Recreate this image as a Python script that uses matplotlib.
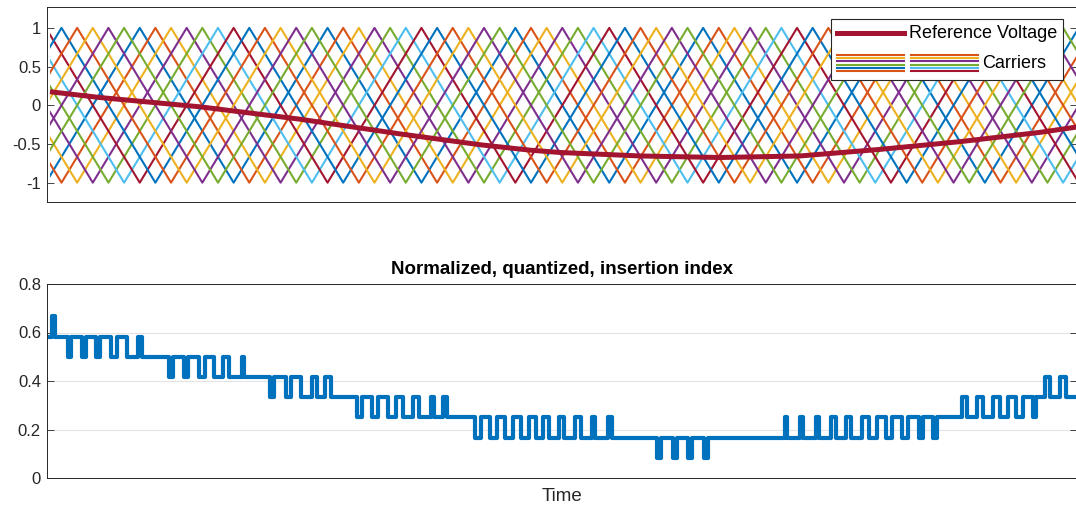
import numpy as np
import matplotlib.pyplot as plt
from matplotlib.patches import Rectangle
from matplotlib.lines import Line2D

plt.rcParams['font.family'] = ['Liberation Sans', 'DejaVu Sans']
plt.rcParams['axes.unicode_minus'] = False

# MATLAB default colour order
matlab_colors = ['#0072BD', '#D95319', '#EDB120', '#7E2F8E', '#77AC30', '#4DBEEE', '#A2142F']
ref_color = '#A2142F'
idx_color = '#0072BD'
ink = '#262626'

# 12 phase shifted triangular carriers (time in arbitrary units)
carrier_period = 187.8
carrier_first_peak = [89.75, 105.4, 121.05, 136.7, 152.35, 168.0, 183.65, 11.5, 27.15, 42.8, 58.45, 74.1]
t_end = 1030

# reference voltage
ref_t = [0, 50, 100, 150, 250, 350, 430, 480, 510, 590, 670, 750, 830, 910, 990, 1030]
ref_v = [0.175, 0.10, 0.04, -0.02, -0.18, -0.37, -0.51, -0.58, -0.61, -0.655, -0.675, -0.655,
         -0.57, -0.47, -0.35, -0.275]

# quantized insertion index: switching instants and level (twelfths) after each
idx_t = [0, 1.5, 5,
         18.3, 21, 32.3, 35.7, 45.7, 50, 61, 66.7, 76.7, 88.3, 92.3,
         119, 123.3, 134, 138.3, 149, 155, 164, 173.3, 179, 191.7, 194.3,
         220, 224, 236, 241, 251, 261.7, 266.7, 275, 280.7,
         306.7, 311.7, 322.2, 328.2, 337.7, 345.7, 353.2, 363.2, 368.7, 380.7, 384.2, 393.3, 396.7,
         425, 431, 440, 447, 455, 463, 471, 479, 486, 493, 499, 509, 514, 525, 531, 542, 545, 558, 562,
         607, 611, 622.5, 626.5, 638, 642, 654, 658,
         735, 737, 750, 752.5, 765.5, 769, 781, 786, 796, 801, 811.5, 818.5, 827, 836, 842, 852,
         857.5, 868.5, 873, 883, 886.5,
         912, 917, 927, 933, 942.5, 949.5, 958, 966, 973, 983, 986,
         995, 1000, 1010, 1016, 1030]
idx_level = [7, 8, 7,
             6, 7, 6, 7, 6, 7, 6, 7, 6, 7, 6,
             5, 6, 5, 6, 5, 6, 5, 6, 5, 6, 5,
             4, 5, 4, 5, 4, 5, 4, 5, 4,
             3, 4, 3, 4, 3, 4, 3, 4, 3, 4, 3, 4, 3,
             2, 3, 2, 3, 2, 3, 2, 3, 2, 3, 2, 3, 2, 3, 2, 3, 2, 3, 2,
             1, 2, 1, 2, 1, 2, 1, 2,
             3, 2, 3, 2, 3, 2, 3, 2, 3, 2, 3, 2, 3, 2, 3, 2,
             3, 2, 3, 2, 3,
             4, 3, 4, 3, 4, 3, 4, 3, 4, 3, 4,
             5, 4, 5, 4, 4]
n_levels = 12

W, H = 1076, 507
fig = plt.figure(figsize=(W / 100, H / 100), dpi=100)
x0, x1 = 46.5, 1077
ax1 = fig.add_axes([x0 / W, 1 - 202 / H, (x1 - x0) / W, 195 / H])
ax2 = fig.add_axes([x0 / W, 1 - 478 / H, (x1 - x0) / W, 194 / H])

xlim = (-3.5, -3.5 + (x1 - x0))

# carriers
clip = Rectangle((0, -2), 5000, 4, transform=ax1.transData)
for k, tp in enumerate(carrier_first_peak):
    peaks = np.arange(tp - carrier_period, t_end + carrier_period, carrier_period)
    tt = np.sort(np.concatenate([peaks, peaks + carrier_period / 2]))
    vv = np.where(np.isin(tt, peaks), 1.0, -1.0)
    ln, = ax1.plot(tt, vv, color=matlab_colors[k % 7], lw=1.5)
    ln.set_clip_path(clip)

ax1.plot(ref_t, ref_v, color=ref_color, lw=3.6, solid_capstyle='butt')
ax1.set_xlim(xlim)
ax1.set_ylim(-1.25, 1.27)
ax1.set_yticks([-1, -0.5, 0, 0.5, 1])
ax1.set_yticklabels(['-1', '-0.5', '0', '0.5', '1'])

# insertion index
ax2.plot(idx_t, np.array(idx_level) / n_levels, drawstyle='steps-post', color=idx_color, lw=3.0,
         solid_joinstyle='round')
ax2.set_xlim(xlim)
ax2.set_ylim(0, 0.8)
ax2.set_yticks([0, 0.2, 0.4, 0.6, 0.8])
ax2.set_yticklabels(['0', '0.2', '0.4', '0.6', '0.8'])
ax2.grid(axis='y', color='#E3E3E3', lw=0.8)
ax2.set_axisbelow(True)
ax2.set_title('Normalized, quantized, insertion index', fontsize=13.5, fontweight='bold', color='black', pad=7)
ax2.set_xlabel('Time', fontsize=13.5, color=ink, labelpad=7)

for ax in (ax1, ax2):
    ax.set_xticks([])
    ax.tick_params(axis='y', direction='in', length=5, width=0.6, right=True, labelsize=12,
                   colors=ink, pad=4)
    for s in ax.spines.values():
        s.set_color(ink)
        s.set_linewidth(0.7)

# legend drawn by hand (two column carrier icon)
def fx(px):
    return px / W

def fy(py):
    return 1 - py / H

fig.add_artist(Rectangle((fx(831), fy(80)), fx(1063) - fx(831), fy(19) - fy(80), transform=fig.transFigure,
                         facecolor='white', edgecolor=ink, lw=0.8, zorder=5))
fig.add_artist(Line2D([fx(837), fx(904)], [fy(33), fy(33)], color=ref_color, lw=3.6, zorder=6))
fig.text(fx(909), fy(33), 'Reference Voltage', fontsize=13, color='black', va='center', zorder=6)
legend_cols = [[1, 2, 3, 4, 0, 1], [1, 2, 3, 4, 5, 6]]
for c, col in enumerate(legend_cols):
    xa = 837 + c * 74
    for r, ci in enumerate(col):
        y = 55 + r * 3.2
        fig.add_artist(Line2D([fx(xa), fx(xa + 67)], [fy(y), fy(y)], color=matlab_colors[ci], lw=1.5, zorder=6))
fig.text(fx(982), fy(63), 'Carriers', fontsize=13, color='black', va='center', zorder=6)

fig.savefig('out.png', dpi=100, facecolor='white')
